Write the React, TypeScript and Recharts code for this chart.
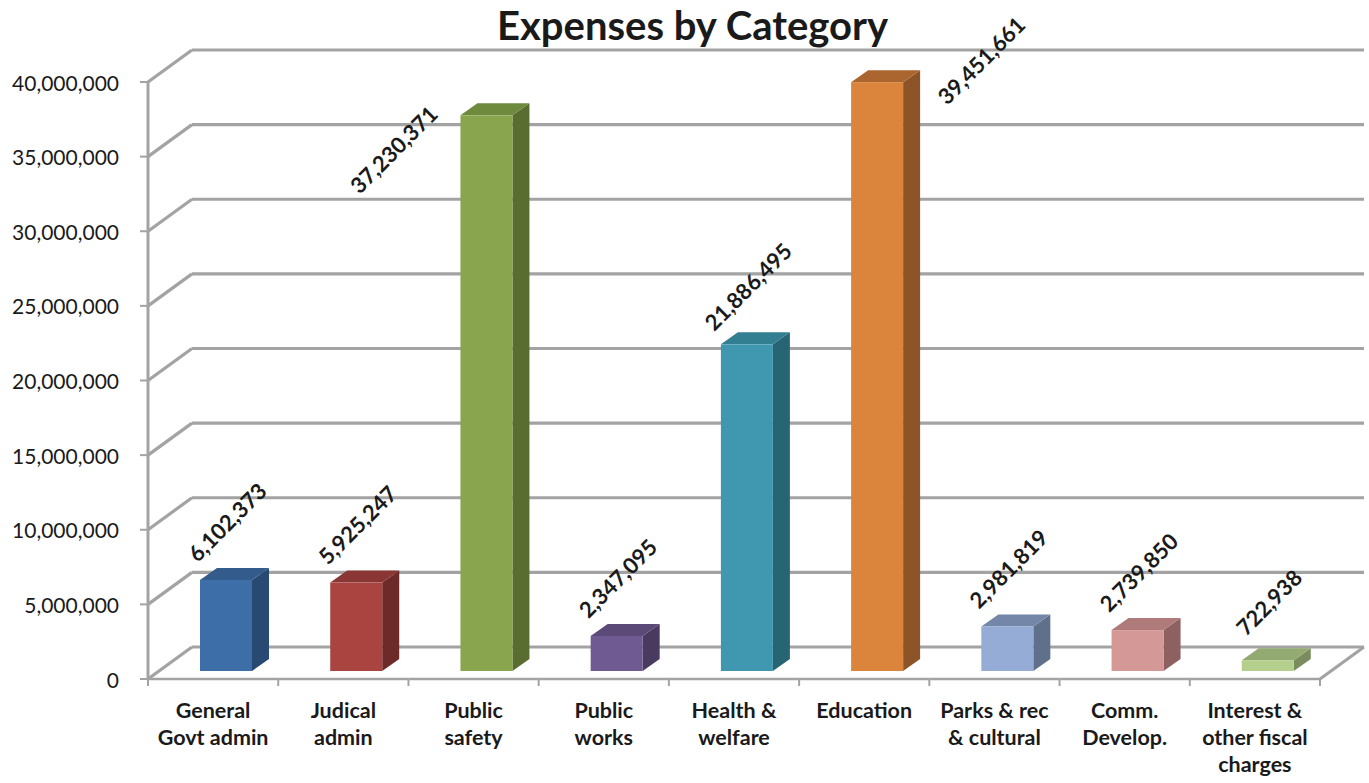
import React from 'react';
import { BarChart, Bar, XAxis, YAxis, CartesianGrid, LabelList } from 'recharts';

const categories = [
  'General\nGovt admin',
  'Judical\nadmin',
  'Public\nsafety',
  'Public\nworks',
  'Health &\nwelfare',
  'Education',
  'Parks & rec\n& cultural',
  'Comm.\nDevelop.',
  'Interest &\nother fiscal\ncharges',
];

const expenses = [6102373, 5925247, 37230371, 2347095, 21886495, 39451661, 2981819, 2739850, 722938];

const yTicks = [0, 5000000, 10000000, 15000000, 20000000, 25000000, 30000000, 35000000, 40000000];

const chartTitle = 'Expenses by Category';

// front, side, top
const palette = [
  ['#3e6ea8', '#284a72', '#335b8c'],
  ['#aa4441', '#6c2a28', '#8a3634'],
  ['#89a54d', '#5a6d31', '#6e8a3c'],
  ['#705a92', '#493a60', '#5b4978'],
  ['#3f98af', '#276474', '#327f92'],
  ['#db843c', '#8d5427', '#ab652e'],
  ['#94acd6', '#5f708b', '#7487a8'],
  ['#d49896', '#8c6160', '#ae7b7a'],
  ['#b5cf8d', '#7a8b5d', '#93aa72'],
];

// labels that Excel pushed beside the bar instead of above it
const labelShift: Record<number, [number, number]> = {
  2: [-94, 34],
  5: [103, -22],
};

const data = categories.map((name, i) => ({ name, value: expenses[i] }));

const FONT = 'Lato, "Open Sans", sans-serif';
const FRONT = { dx: -12, dy: 8 };
const BACK = { dx: 32, dy: -24 };
const DEPTH = { dx: 17, dy: -12 };
const GRID = '#a3a3a3';

const Bar3D = (props: any) => {
  const { x, y, width, height, index } = props;
  if (height == null || width == null) return null;
  const [front, side, top] = palette[index % palette.length];
  const x0 = x + 1;
  const w = width;
  const h = height;
  return (
    <g>
      <polygon
        points={`${x0 + w},${y} ${x0 + w + DEPTH.dx},${y + DEPTH.dy} ${x0 + w + DEPTH.dx},${y + h + DEPTH.dy} ${x0 + w},${y + h}`}
        fill={side}
      />
      <polygon
        points={`${x0},${y} ${x0 + DEPTH.dx},${y + DEPTH.dy} ${x0 + w + DEPTH.dx},${y + DEPTH.dy} ${x0 + w},${y}`}
        fill={top}
      />
      <rect x={x0} y={y} width={w} height={h} fill={front} />
    </g>
  );
};

const renderValueLabel = (props: any) => {
  const { x, y, width, value, index } = props;
  const [sx, sy] = labelShift[index] || [0, -58];
  const cx = x + width / 2 + 2 + sx;
  const cy = y + sy;
  return (
    <text
      x={cx}
      y={cy}
      textAnchor="middle"
      dominantBaseline="central"
      transform={`rotate(-45 ${cx} ${cy})`}
      fontFamily={FONT}
      fontWeight={700}
      fontSize={22}
      fill="#1a1a1a"
    >
      {Number(value).toLocaleString('en-US')}
    </text>
  );
};

const gridLine = (props: any) => {
  const { x1, x2, y1, key } = props;
  const top = props.y;
  const h = props.height;
  const isTop = top != null && Math.abs(y1 - top) < 1;
  return (
    <g key={key}>
      <line x1={x1 + FRONT.dx} y1={y1 + FRONT.dy} x2={x1 + BACK.dx} y2={y1 + BACK.dy} stroke={GRID} strokeWidth={3.2} />
      <line x1={x1 + BACK.dx} y1={y1 + BACK.dy} x2={x2 + BACK.dx} y2={y1 + BACK.dy} stroke={GRID} strokeWidth={3.2} />
      {isTop && h != null && (
        <line x1={x1 + FRONT.dx} y1={y1 + FRONT.dy} x2={x1 + FRONT.dx} y2={top + h + FRONT.dy} stroke={GRID} strokeWidth={3} />
      )}
    </g>
  );
};

const ValueTick = (props: any) => {
  const { x, y, payload } = props;
  const fy = y + FRONT.dy;
  return (
    <g>
      <line x1={x + FRONT.dx - 8} y1={fy} x2={x + FRONT.dx} y2={fy} stroke={GRID} strokeWidth={2} />
      <text x={x - 41} y={fy} textAnchor="end" dominantBaseline="central" fontFamily={FONT} fontSize={21} fill="#1a1a1a">
        {Number(payload.value).toLocaleString('en-US')}
      </text>
    </g>
  );
};

const CategoryTick = (props: any) => {
  const { x, y, payload, index } = props;
  const band = (props.width || 1172) / categories.length;
  const fx = x + FRONT.dx;
  const fy = y + FRONT.dy;
  const left = fx - band / 2;
  const right = fx + band / 2;
  const lines = String(payload.value).split('\n');
  const last = index === categories.length - 1;
  return (
    <g>
      <line x1={left} y1={fy} x2={right} y2={fy} stroke={GRID} strokeWidth={2.5} />
      <line x1={left} y1={fy} x2={left} y2={fy + 7} stroke={GRID} strokeWidth={2} />
      {last && (
        <>
          <line x1={right} y1={fy} x2={right} y2={fy + 7} stroke={GRID} strokeWidth={2} />
          <line x1={right} y1={fy} x2={right + BACK.dx - FRONT.dx} y2={fy + BACK.dy - FRONT.dy} stroke={GRID} strokeWidth={3} />
        </>
      )}
      <text x={fx} y={fy + 39} textAnchor="middle" fontFamily={FONT} fontWeight={700} fontSize={21.5} fill="#1a1a1a">
        {lines.map((l, i) => (
          <tspan key={i} x={fx} dy={i === 0 ? 0 : 27}>
            {l}
          </tspan>
        ))}
      </text>
    </g>
  );
};

const App: React.FC = () => {
  return (
    <div style={{ position: 'absolute', left: 0, top: 0, width: 1369, height: 783, background: '#fff' }}>
      <div
        style={{
          position: 'absolute',
          left: 0,
          width: 1369,
          top: 1,
          textAlign: 'center',
          fontFamily: FONT,
          fontWeight: 700,
          fontSize: 40,
          color: '#1a1a1a',
          paddingLeft: 8,
        }}
      >
        {chartTitle}
      </div>
      <BarChart width={1369} height={783} data={data} margin={{ top: 74, right: 37, bottom: 0, left: 0 }}>
        <CartesianGrid horizontal={gridLine} vertical={false} />
        <XAxis
          dataKey="name"
          height={112}
          interval={0}
          axisLine={false}
          tickLine={false}
          tickSize={0}
          tickMargin={0}
          tick={<CategoryTick />}
        />
        <YAxis
          width={160}
          domain={[0, 40000000]}
          ticks={yTicks}
          axisLine={false}
          tickLine={false}
          tickSize={0}
          tickMargin={0}
          tick={<ValueTick />}
        />
        <Bar dataKey="value" barSize={52} shape={<Bar3D />} isAnimationActive={false}>
          <LabelList dataKey="value" content={renderValueLabel} />
        </Bar>
      </BarChart>
    </div>
  );
};

export default App;
